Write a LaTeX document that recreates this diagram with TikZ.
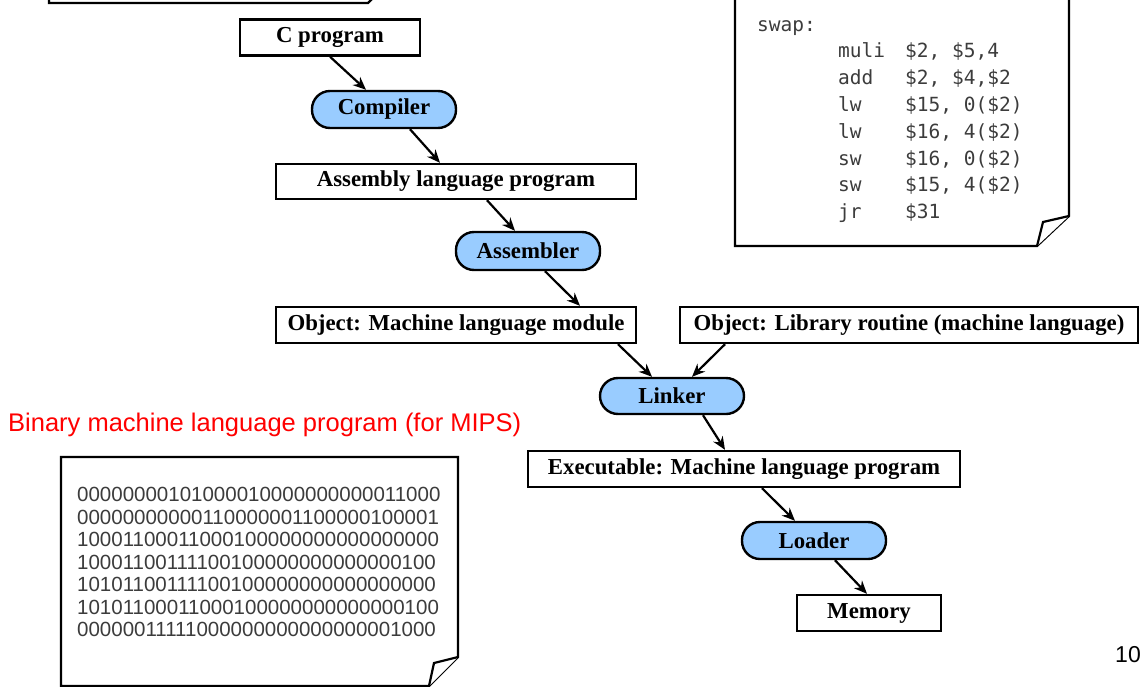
\documentclass[tikz,border=0pt]{standalone}
\usepackage{fontspec}
\setmainfont{Liberation Serif}
\newfontfamily\arialf{Liberation Sans}
\newfontfamily\monof{DejaVu Sans Mono}
\usetikzlibrary{arrows.meta,calc}
\definecolor{pillblue}{RGB}{153,204,255}
\definecolor{codegray}{RGB}{60,60,60}
\tikzset{
  boxnode/.style={draw, line width=2.4pt, fill=white, inner sep=0pt, minimum height=36pt,
     font=\fontsize{22.8}{26}\selectfont\bfseries},
  pillnode/.style={draw, line width=2.4pt, fill=pillblue, rounded corners=18pt, inner sep=0pt,
     minimum width=144pt, minimum height=37pt, font=\fontsize{22.8}{26}\selectfont\bfseries},
  arr/.style={line width=2.2pt, -{Stealth[length=13pt,width=11pt]}},
  page/.style={line width=2.2pt},
  bin/.style={anchor=base west, inner sep=0pt, text=codegray, font=\arialf\fontsize{20.5}{22}\selectfont},
  asm/.style={anchor=base west, inner sep=0pt, text=codegray, font=\monof\fontsize{19.5}{22}\selectfont},
}
\begin{document}
\begin{tikzpicture}[x=1pt,y=-1pt]
\useasboundingbox (0,0) rectangle (1144,686);
% top-left page fragment
\draw[page] (49,-20) -- (49,3) -- (368,3) -- (373,-2);
% assembly page
\draw[page, fill=white] (735,-10) -- (735,246) -- (1037,246) -- (1069,216) -- (1069,-10);
\draw[page, fill=white] (1069,216) -- (1043,222) -- (1037,246);
\node[asm] (swap) at (757,31) {swap:};
\foreach \i/\op/\args in {1/muli/{\$2, \$5,4}, 2/add/{\$2, \$4,\$2}, 3/lw/{\$15, 0(\$2)}, 4/lw/{\$16, 4(\$2)}, 5/sw/{\$16, 0(\$2)}, 6/sw/{\$15, 4(\$2)}, 7/jr/{\$31}}{
  \node[asm] (op\i) at (838,{31+26.8*\i}) {\op};
  \node[asm] (ar\i) at (905,{31+26.8*\i}) {\args};
}
% binary page
\draw[page, fill=white] (61,457) -- (458,457) -- (458,657) -- (429,686) -- (61,686) -- cycle;
\draw[page, fill=white] (458,657) -- (434,663) -- (429,686);
\foreach \i/\b in {0/00000000101000010000000000011000,
                   1/00000000000110000001100000100001,
                   2/10001100011000100000000000000000,
                   3/10001100111100100000000000000100,
                   4/10101100111100100000000000000000,
                   5/10101100011000100000000000000100,
                   6/00000011111000000000000000001000}{
  \node[bin] (bin\i) at (77,{501.5+22.5*\i}) {\b};
}
\node[anchor=west, inner sep=0pt, text=red, font=\arialf\fontsize{25.5}{28}\selectfont] (title) at (8,425) {Binary machine language program (for MIPS)};
\node[anchor=center, inner sep=0pt, font=\arialf\fontsize{23}{26}\selectfont] (pagenum) at (1128,655) {10};
% flow nodes
\node[boxnode, minimum width=180pt] (cprog) at (330,37.5) {C program};
\node[pillnode] (compiler) at (384,109.5) {Compiler};
\node[boxnode, minimum width=360pt, minimum height=35pt] (asmprog) at (456,181.5) {Assembly language program};
\node[pillnode, minimum height=38pt] (assembler) at (528,251) {Assembler};
\node[boxnode, minimum width=360pt] (objmod) at (456,325) {Object: Machine language module};
\node[boxnode, minimum width=458pt] (libr) at (909,325) {Object: Library routine (machine language)};
\node[pillnode, minimum height=36pt] (linker) at (672,396) {Linker};
\node[boxnode, minimum width=432pt] (exec) at (744,469) {Executable: Machine language program};
\node[pillnode] (loader) at (814,540.5) {Loader};
\node[boxnode, minimum width=144pt] (memory) at (869,613) {Memory};
% connectors
\draw[arr] ([xshift=0pt]cprog.south) -- ([xshift=-18pt]compiler.north);
\draw[arr] ([xshift=26pt]compiler.south) -- ([xshift=-16pt]asmprog.north);
\draw[arr] ([xshift=31pt]asmprog.south) -- ([xshift=-13pt]assembler.north);
\draw[arr] ([xshift=17pt]assembler.south) -- ([xshift=124pt]objmod.north);
\draw[arr] ([xshift=162pt]objmod.south) -- ([xshift=-20pt]linker.north);
\draw[arr] ([xshift=-184pt]libr.south) -- ([xshift=20pt]linker.north);
\draw[arr] ([xshift=31pt]linker.south) -- ([xshift=-19pt]exec.north);
\draw[arr] ([xshift=18pt]exec.south) -- ([xshift=-19pt]loader.north);
\draw[arr] ([xshift=21pt]loader.south) -- ([xshift=-2pt]memory.north);
\end{tikzpicture}
\end{document}
